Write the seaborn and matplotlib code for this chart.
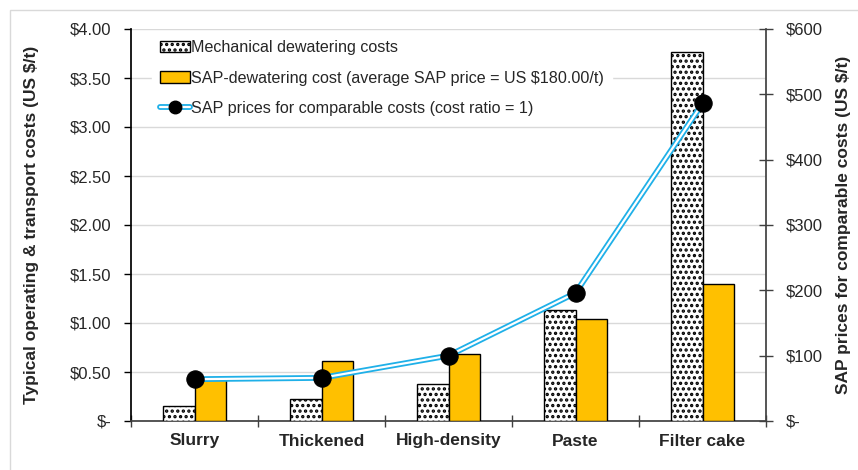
import matplotlib
matplotlib.use('Agg')
import matplotlib.pyplot as plt
from matplotlib.lines import Line2D
from matplotlib.patches import Patch, Rectangle
from matplotlib.ticker import FuncFormatter, MultipleLocator
import numpy as np
import pandas as pd
import seaborn as sns

# data
categories = ['Slurry', 'Thickened', 'High-density', 'Paste', 'Filter cake']
mech_costs = [0.15, 0.22, 0.38, 1.13, 3.77]
sap_costs = [0.43, 0.61, 0.68, 1.04, 1.40]
sap_prices = [64, 66, 100, 196, 486]

mech_label = 'Mechanical dewatering costs'
sap_label = 'SAP-dewatering cost (average SAP price = US $180.00/t)'
line_label = 'SAP prices for comparable costs (cost ratio = 1)'

sns.set_theme(style='white')
plt.rcParams['font.family'] = ['Liberation Sans', 'DejaVu Sans']
plt.rcParams['hatch.linewidth'] = 1.6
plt.rcParams['hatch.color'] = 'black'

bars = pd.DataFrame({
    'stage': categories * 2,
    'cost': mech_costs + sap_costs,
    'series': [mech_label] * 5 + [sap_label] * 5,
})
line = pd.DataFrame({'stage': categories, 'price': sap_prices})

fig = plt.figure(figsize=(8.58, 4.70), dpi=100)
ax = fig.add_axes([131 / 858, 1 - 421 / 470, (766 - 131) / 858, (421 - 29) / 470])

sns.barplot(data=bars, x='stage', y='cost', hue='series', order=categories,
            hue_order=[mech_label, sap_label], palette=['white', '#ffc000'],
            width=0.49, gap=0, edgecolor='black', linewidth=1.0, saturation=1,
            legend=False, ax=ax, zorder=3)
for p in ax.patches[:5]:
    p.set_hatch('...')

ax.set_ylim(0, 4)
ax.set_xlim(-0.5, 4.5)
ax.yaxis.set_major_locator(MultipleLocator(0.5))
ax.yaxis.set_major_formatter(FuncFormatter(lambda v, _: '$-' if v == 0 else f'${v:.2f}'))
ax.grid(axis='y', color='#d9d9d9', linewidth=1, zorder=0)
ax.set_axisbelow(True)
ax.set_xlabel('')
ax.set_ylabel('Typical operating & transport costs (US $/t)', fontsize=12.5,
              fontweight='bold', labelpad=22)
ax.tick_params(axis='y', direction='out', length=5, width=1, color='black',
               labelsize=12, left=True, pad=9)
ax.tick_params(axis='x', which='major', length=0, labelsize=12.5, pad=9)
ax.set_xticks(np.arange(-0.5, 5, 1), minor=True)
ax.tick_params(axis='x', which='minor', direction='inout', length=9, width=1,
               color='#404040', bottom=True)
for lbl in ax.get_xticklabels():
    lbl.set_fontweight('bold')
ax.spines['top'].set_visible(False)
ax.spines['left'].set_color('black')
ax.spines['bottom'].set_color('#404040')
ax.spines['right'].set_visible(False)

ax2 = ax.twinx()
sns.lineplot(data=line, x='stage', y='price', color='#1fb0e8', linewidth=4.2,
             ax=ax2, sort=False, zorder=4)
sns.lineplot(data=line, x='stage', y='price', color='white', linewidth=1.6,
             marker='o', markersize=12.5, markerfacecolor='black',
             markeredgecolor='black', ax=ax2, sort=False, zorder=5)
ax2.set_ylim(0, 600)
ax2.yaxis.set_major_locator(MultipleLocator(100))
ax2.yaxis.set_major_formatter(FuncFormatter(lambda v, _: '$-' if v == 0 else f'${v:.0f}'))
ax2.set_ylabel('SAP prices for comparable costs (US $/t)', fontsize=12.5,
               fontweight='bold', labelpad=10)
ax2.tick_params(axis='y', direction='inout', length=10, width=1, color='#404040',
                labelsize=12, right=True, pad=9)
ax2.spines['top'].set_visible(False)
ax2.spines['left'].set_visible(False)
ax2.spines['bottom'].set_visible(False)
ax2.spines['right'].set_color('#404040')
ax2.grid(False)

handles = [
    Patch(facecolor='white', edgecolor='black', hatch='...', linewidth=1.0),
    Patch(facecolor='#ffc000', edgecolor='black', linewidth=1.0),
    (Line2D([], [], color='#1fb0e8', linewidth=4.2),
     Line2D([], [], color='white', linewidth=1.6, marker='o', markersize=9,
            markerfacecolor='black', markeredgecolor='black')),
]
leg = ax2.legend(handles, [mech_label, sap_label, line_label], loc='upper left',
                 bbox_to_anchor=(0.02, 1.012), frameon=True, fontsize=11.6,
                 handlelength=1.85, handletextpad=0.1, labelspacing=0.95,
                 borderpad=0.5, fancybox=False)
leg.get_frame().set_edgecolor('white')
leg.get_frame().set_facecolor('white')
leg.get_frame().set_alpha(1)

fig.patches.append(Rectangle((10 / 858, -0.1), 1.2, 1 - 10 / 470 + 0.1,
                             transform=fig.transFigure, fill=False,
                             edgecolor='#d9d9d9', linewidth=1))

fig.savefig('out.png', dpi=100, facecolor='white')
